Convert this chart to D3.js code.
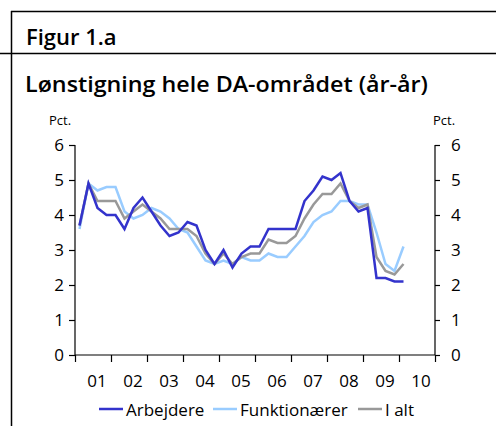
<!DOCTYPE html>
<html><head><meta charset="utf-8">
<script src="https://cdn.jsdelivr.net/npm/d3@7"></script>
<style>html,body{margin:0;padding:0;background:#fff;}svg{display:block;}</style>
</head><body>
<script>
// Quarterly data, 2001Q1 .. 2010Q1
const startYear = 2001;
const arbejdere = [3.7,4.9,4.2,4.0,4.0,3.6,4.2,4.5,4.1,3.7,3.4,3.5,3.8,3.7,3.0,2.6,3.0,2.5,2.9,3.1,3.1,3.6,3.6,3.6,3.6,4.4,4.7,5.1,5.0,5.2,4.4,4.1,4.2,2.2,2.2,2.1,2.1];
const funktionaerer = [3.6,4.9,4.7,4.8,4.8,4.1,3.9,4.0,4.2,4.1,3.9,3.6,3.5,3.1,2.7,2.6,2.7,2.6,2.8,2.7,2.7,2.9,2.8,2.8,3.1,3.4,3.8,4.0,4.1,4.4,4.4,4.3,4.3,3.5,2.6,2.4,3.1];
const iAlt = [3.7,4.9,4.4,4.4,4.4,3.9,4.1,4.3,4.1,3.9,3.6,3.6,3.6,3.4,2.9,2.6,2.9,2.6,2.8,2.9,2.9,3.3,3.2,3.2,3.4,3.9,4.3,4.6,4.6,4.9,4.4,4.2,4.3,2.8,2.4,2.3,2.6];
const seriesNames = ["Arbejdere","Funktionærer","I alt"];
const seriesColors = ["#3333cc","#99ccff","#999999"];
const yearLabels = ["01","02","03","04","05","06","07","08","09","10"];
const yTicks = [0,1,2,3,4,5,6];

const W = 496, H = 426;
const font = "'Open Sans', sans-serif";
const svg = d3.select("body").append("svg").attr("width", W).attr("height", H);

// frame
svg.append("line").attr("x1",11).attr("x2",W).attr("y1",11.5).attr("y2",11.5).attr("stroke","#000").attr("stroke-width",1.5);
svg.append("line").attr("x1",0).attr("x2",W).attr("y1",53.5).attr("y2",53.5).attr("stroke","#000").attr("stroke-width",1.5);
svg.append("line").attr("x1",11.5).attr("x2",11.5).attr("y1",11).attr("y2",H).attr("stroke","#000").attr("stroke-width",1.5);

svg.append("text").attr("x",26).attr("y",45).attr("font-family",font).attr("font-weight",600).attr("font-size",22).text("Figur 1.a");
svg.append("text").attr("x",25).attr("y",92).attr("font-family",font).attr("font-weight",600).attr("font-size",21).attr("textLength",403).attr("lengthAdjust","spacingAndGlyphs").text("Lønstigning hele DA-området (år-år)");
svg.append("text").attr("x",49).attr("y",125).attr("font-family",font).attr("font-size",13).text("Pct.");
svg.append("text").attr("x",433).attr("y",125).attr("font-family",font).attr("font-size",13).text("Pct.");

const x = d3.scaleLinear().domain([startYear, startYear+10]).range([75,435]);
const y = d3.scaleLinear().domain([0,6]).range([355,145]);

const yl = svg.append("g").attr("transform","translate(75,0)").call(d3.axisLeft(y).tickValues(yTicks).tickSize(6).tickPadding(5).tickFormat(d3.format("d")));
const yr = svg.append("g").attr("transform","translate(435,0)").call(d3.axisRight(y).tickValues(yTicks).tickSize(5).tickPadding(11).tickFormat(d3.format("d")));
const years = d3.range(startYear, startYear+11);
const xa = svg.append("g").attr("transform","translate(0,355)").call(d3.axisBottom(x).tickValues(years).tickSize(7).tickFormat(""));
[yl,yr,xa].forEach(g=>{
  g.select(".domain").attr("stroke","#000").attr("stroke-width",1.2);
  g.selectAll(".tick line").attr("stroke","#000").attr("stroke-width",1.2);
  g.selectAll("text").attr("font-family",font).attr("font-size",17).attr("fill","#000");
});
yl.select(".domain").attr("d","M0,145V355");
yr.select(".domain").attr("d","M0,145V355");
xa.select(".domain").attr("d","M75,0H435");

svg.append("g").selectAll("text").data(yearLabels).join("text")
  .attr("x",(d,i)=>x(startYear+i+0.5)+4).attr("y",387)
  .attr("text-anchor","middle").attr("font-family",font).attr("font-size",17).text(d=>d);

const allSeries = [arbejdere, funktionaerer, iAlt];
const line = d3.line().x((d,i)=>x(startYear+(i+0.5)/4)).y(d=>y(d));
const drawOrder = [1,2,0];
drawOrder.forEach(k=>{
  svg.append("path").datum(allSeries[k]).attr("d",line).attr("fill","none")
    .attr("stroke",seriesColors[k]).attr("stroke-width",2.5).attr("stroke-linejoin","miter");
});

// legend
const legX = [99,213,358];
const lg = svg.append("g");
seriesNames.forEach((n,k)=>{
  lg.append("line").attr("x1",legX[k]).attr("x2",legX[k]+24).attr("y1",409).attr("y2",409).attr("stroke",seriesColors[k]).attr("stroke-width",2.5);
  lg.append("text").attr("x",legX[k]+27).attr("y",416).attr("font-family",font).attr("font-size",17).text(n);
});
</script>
</body></html>
